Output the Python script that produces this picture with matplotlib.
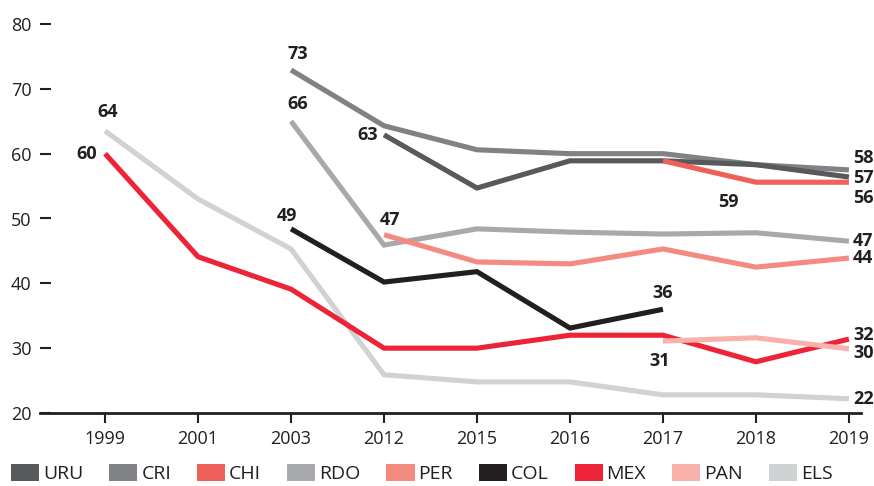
import numpy as np
import matplotlib
matplotlib.use("Agg")
import matplotlib.pyplot as plt
from matplotlib.patches import Patch

plt.rcParams['font.family'] = ['Open Sans', 'DejaVu Sans']

years = ["1999", "2001", "2003", "2012", "2015", "2016", "2017", "2018", "2019"]
nan = np.nan

uru = [nan, nan, nan, 62.9, 54.7, 58.9, 58.9, 58.3, 56.4]
cri = [nan, nan, 72.9, 64.3, 60.6, 60.0, 60.0, 58.3, 57.5]
chi = [nan, nan, nan, nan, nan, nan, 58.9, 55.6, 55.6]
rdo = [nan, nan, 65.0, 45.9, 48.4, 47.9, 47.6, 47.8, 46.5]
per = [nan, nan, nan, 47.5, 43.3, 43.0, 45.3, 42.5, 43.9]
col = [nan, nan, 48.4, 40.2, 41.8, 33.1, 36.0, nan, nan]
mex = [60.0, 44.1, 39.1, 30.0, 30.0, 32.0, 32.0, 27.9, 31.4]
pan = [nan, nan, nan, nan, nan, nan, 31.1, 31.6, 29.9]
els = [63.5, 53.0, 45.3, 25.9, 24.8, 24.8, 22.8, 22.8, 22.2]

names = ["URU", "CRI", "CHI", "RDO", "PER", "COL", "MEX", "PAN", "ELS"]
colors = ["#58595b", "#808285", "#f0605a", "#a7a9ac", "#f48b80",
          "#231f20", "#ed2437", "#f8b1ab", "#d1d2d4"]
series = [uru, cri, chi, rdo, per, col, mex, pan, els]

# labels: (series, index, text, dx points, dy points, ha, va)
labels = [
    (els, 0, "64", 2, 7, "center", "bottom"),
    (mex, 0, "60", -6, 0, "right", "center"),
    (cri, 2, "73", 5, 5, "center", "bottom"),
    (rdo, 2, "66", 5, 6, "center", "bottom"),
    (col, 2, "49", -3, 3, "center", "bottom"),
    (uru, 3, "63", -4, 0, "right", "center"),
    (per, 3, "47", 4, 4, "center", "bottom"),
    (col, 6, "36", 0, 5, "center", "bottom"),
    (pan, 6, "31", -2, -8, "center", "top"),
    (chi, 7, "59", -20, -8, "center", "top"),
    (cri, 8, "58", 3, 2, "left", "bottom"),
    (uru, 8, "57", 3, -1, "left", "center"),
    (chi, 8, "56", 3, -5, "left", "top"),
    (rdo, 8, "47", 3, 0, "left", "center"),
    (per, 8, "44", 3, 0, "left", "center"),
    (mex, 8, "32", 3, 3, "left", "center"),
    (pan, 8, "30", 3, -3, "left", "center"),
    (els, 8, "22", 3, 0, "left", "center"),
]

fig = plt.figure(figsize=(8.74, 4.86), dpi=100)
ax = fig.add_axes([40 / 874, 1 - 413 / 486, 821 / 874, 389 / 486])

x = np.arange(len(years))
order = [8, 3, 1, 0, 2, 4, 5, 6, 7]
for i in order:
    ax.plot(x, series[i], color=colors[i], lw=3.7, solid_joinstyle="miter",
            solid_capstyle="butt", zorder=2 + order.index(i))

for s, i, t, dx, dy, ha, va in labels:
    ax.annotate(t, (x[i], s[i]), xytext=(dx, dy), textcoords="offset points",
                ha=ha, va=va, fontsize=13, fontweight="bold", color="#231f20",
                annotation_clip=False, zorder=20)

ax.set_xlim(-0.70, 8.13)
ax.set_ylim(20, 80)
ax.set_xticks(x)
ax.set_xticklabels(years)
ax.set_yticks(range(20, 81, 10))
for sp in ["left", "right", "top"]:
    ax.spines[sp].set_visible(False)
ax.spines["bottom"].set_linewidth(2)
ax.spines["bottom"].set_color("#231f20")
ax.tick_params(axis="x", direction="out", length=7, width=1.5, color="#231f20",
               labelsize=13, labelcolor="#231f20", pad=5)
ax.tick_params(axis="y", direction="in", length=8, width=1.5, color="#231f20",
               labelsize=13, labelcolor="#231f20", pad=6)

handles = [Patch(facecolor=c, edgecolor="none") for c in colors]
fig.legend(handles, names, loc="center left", bbox_to_anchor=(11 / 874, 0.026),
           ncol=9, frameon=False, fontsize=14, handlelength=1.45, handleheight=1.0,
           handletextpad=0.2, columnspacing=1.33, borderpad=0, borderaxespad=0,
           labelcolor="#231f20")

fig.savefig("out.png", dpi=100)
